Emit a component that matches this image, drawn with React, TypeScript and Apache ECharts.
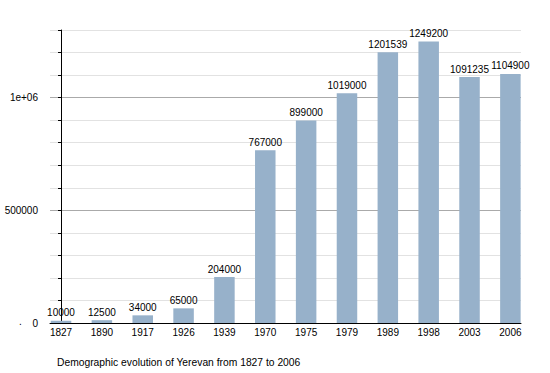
import React, { useEffect, useRef } from "react";
import * as echarts from "echarts";

const years = ["1827", "1890", "1917", "1926", "1939", "1970", "1975", "1979", "1989", "1998", "2003", "2006"];
const population = [10000, 12500, 34000, 65000, 204000, 767000, 899000, 1019000, 1201539, 1249200, 1091235, 1104900];
const titleText = "Demographic evolution of Yerevan from 1827 to 2006";

const FONT = "'Liberation Sans', Arial, sans-serif";

export default function App() {
  const ref = useRef<HTMLDivElement>(null);
  useEffect(() => {
    if (!ref.current) return;
    const chart = echarts.init(ref.current, null, { renderer: "svg" });
    chart.setOption({
      animation: false,
      backgroundColor: "#ffffff",
      textStyle: { fontFamily: FONT },
      title: {
        text: titleText,
        left: 52,
        top: 352,
        textStyle: { fontSize: 10.3, fontWeight: "normal", color: "#000", fontFamily: FONT },
      },
      grid: { left: 50, right: 29, top: 30, bottom: 50, containLabel: false },
      xAxis: {
        type: "value",
        min: -0.27,
        max: 11.26,
        axisLine: { show: true, lineStyle: { color: "#000", width: 1 } },
        axisTick: { show: false },
        splitLine: { show: false },
        axisLabel: {
          customValues: years.map((_, i) => i),
          formatter: (v: number) => years[Math.round(v)] ?? "",
          fontSize: 10,
          color: "#000",
          margin: 4,
          fontFamily: FONT,
        },
      },
      yAxis: {
        type: "value",
        min: 0,
        max: 1300000,
        interval: 100000,
        axisLine: { show: true, lineStyle: { color: "#000", width: 1 } },
        axisTick: { show: true, length: 3, lineStyle: { color: "#000" } },
        splitLine: {
          show: true,
          lineStyle: { color: ["#aaaaaa", "#e2e2e2", "#e2e2e2", "#e2e2e2", "#e2e2e2"], width: 1 },
        },
        axisLabel: {
          fontSize: 10,
          color: "#000",
          margin: 12,
          fontFamily: FONT,
          formatter: (v: number) => (v === 1000000 ? "1e+06" : v % 500000 === 0 ? String(v) : ""),
        },
      },
      graphic: [
        {
          type: "text",
          x: 19,
          y: 326,
          style: { text: ".", fontSize: 10, fill: "#000", textVerticalAlign: "bottom", fontFamily: FONT },
        },
      ],
      series: [
        {
          type: "bar",
          data: population.map((v, i) => [i, v]),
          barWidth: 20.5,
          itemStyle: { color: "#97b1ca" },
          label: {
            show: true,
            position: "top",
            distance: 3,
            fontSize: 10,
            color: "#000",
            fontFamily: FONT,
            formatter: (p: any) => String(p.value[1]),
          },
        },
      ],
    });
    return () => chart.dispose();
  }, []);
  return <div ref={ref} style={{ position: "fixed", left: 0, top: 0, width: 550, height: 373 }} />;
}
